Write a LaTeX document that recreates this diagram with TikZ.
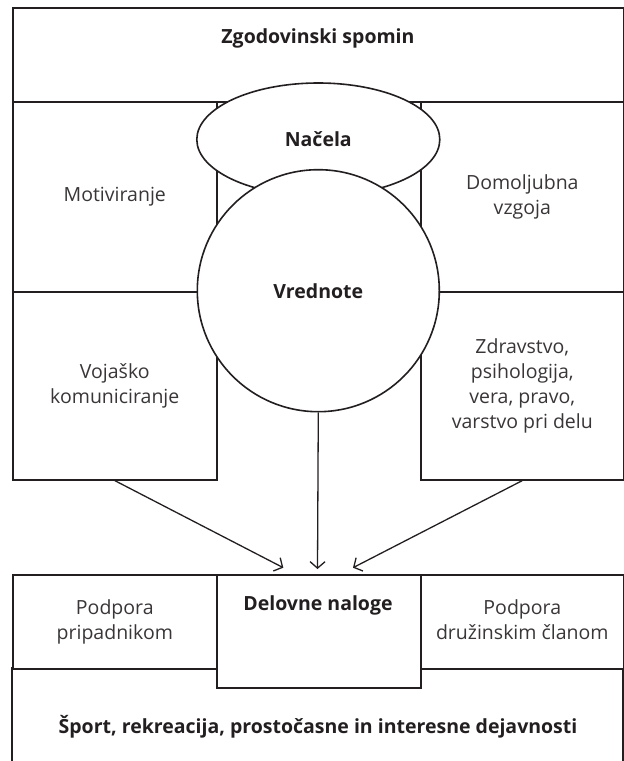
\documentclass[tikz,border=0pt]{standalone}
\usepackage{fontspec}
\setmainfont{Open Sans}
\usetikzlibrary{arrows.meta,shapes.geometric}
\definecolor{lc}{HTML}{231F20}
\definecolor{tc}{HTML}{3A3637}
\begin{document}
\begin{tikzpicture}[x=1pt,y=-1pt,
  txt/.style={text=tc, font=\fontsize{19.5}{25}\selectfont, align=center, inner sep=0pt},
  btxt/.style={text=lc, font=\fontsize{19.5}{25}\selectfont\bfseries, align=center, inner sep=0pt},
  box/.style={txt, draw=lc, line width=1.6pt, fill=white, anchor=north west},
  arr/.style={draw=lc, line width=1.3pt, -{Straight Barb[length=6.5pt,width=15pt,line width=1.3pt]}}
]
\useasboundingbox (0,0) rectangle (624,761);
% top box
\node[box, minimum width=611pt, minimum height=94pt] (top) at (12,7) {};
\node[btxt] (zgod) at (318,38.5) {Zgodovinski spomin};
% middle boxes
\node[box, minimum width=204pt, minimum height=190pt] (mot) at (12,101) {Motiviranje};
\node[box, minimum width=203pt, minimum height=190pt] (dom) at (420,101) {Domoljubna\\vzgoja};
\node[box, minimum width=204pt, minimum height=188pt] (vk) at (12,291) {Vojaško\\komuniciranje};
\node[box, minimum width=203pt, minimum height=188pt] (zd) at (420,291) {Zdravstvo,\\psihologija,\\vera, pravo,\\varstvo pri delu};
% ellipse and circle
\node[btxt, draw=lc, line width=1.6pt, fill=white, ellipse, minimum width=243pt, minimum height=113pt] (nac) at (318.3,139.5) {Načela};
\node[btxt, draw=lc, line width=1.6pt, fill=white, circle, minimum size=242pt] (vred) at (318.3,290.7) {Vrednote};
% bottom big box (open at the bottom)
\coordinate (bl) at (12,761);
\coordinate (br) at (623,761);
\draw[draw=lc, line width=1.6pt] (bl) -- (12,668) -- (623,668) -- (br);
\node[btxt] (sport) at (318,727) {Šport, rekreacija, prostočasne in interesne dejavnosti};
% bottom small boxes
\node[box, minimum width=204pt, minimum height=94pt] (pp) at (12,574) {\raisebox{3pt}{\begin{tabular}{@{}c@{}}Podpora\\pripadnikom\end{tabular}}};
\node[box, minimum width=203pt, minimum height=94pt] (pd) at (420,574) {\raisebox{3pt}{\begin{tabular}{@{}c@{}}Podpora\\družinskim članom\end{tabular}}};
\node[box, minimum width=204pt, minimum height=113pt] (dn) at (216,574) {};
\node[btxt] (dnt) at (318,605) {Delovne naloge};
% arrows
\coordinate (tl) at (283.3,567.7);
\coordinate (tm) at (317.5,569);
\coordinate (tr) at (353,567.7);
\draw[arr] (vk.south) -- (tl);
\draw[arr] (vred.south) -- (tm);
\draw[arr] (zd.south) -- (tr);
\end{tikzpicture}
\end{document}
